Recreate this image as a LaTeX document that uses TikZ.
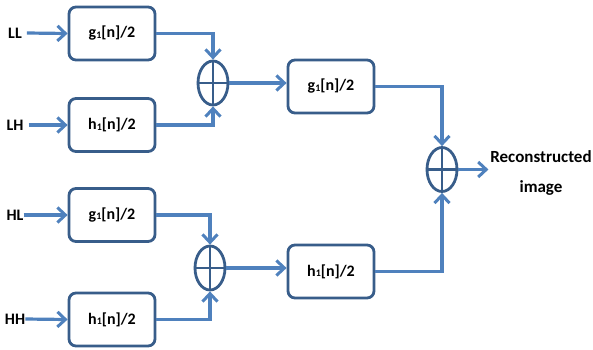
\documentclass[tikz,border=0pt]{standalone}
\usepackage{fontspec}
\setmainfont{Carlito}
\usetikzlibrary{shapes.geometric,arrows.meta}
\definecolor{lineblue}{RGB}{79,129,189}
\definecolor{darkblue}{RGB}{56,93,138}
\newcommand{\sub}[1]{\raisebox{-0.5pt}{\fontsize{10}{10}\selectfont #1}}
\begin{document}
\begin{tikzpicture}[x=1pt,y=-1pt,
  font=\fontsize{16}{18}\selectfont\bfseries,
  filt/.style={draw=darkblue,line width=2.8pt,rounded corners=7pt,minimum width=86pt,minimum height=53pt,inner sep=0pt,fill=white},
  summer/.style={draw=darkblue,line width=2.8pt,ellipse,minimum width=30pt,minimum height=44pt,inner sep=0pt},
  conn/.style={draw=lineblue,line width=3.2pt,-{Straight Barb[length=8pt,width=15pt,line width=3pt]}},
  lbl/.style={inner sep=0pt}]
\useasboundingbox (0,0) rectangle (593,349);
% inputs
\node[lbl] (LL) at (15,33) {LL};
\node[lbl] (LH) at (15,125) {LH};
\node[lbl] (HL) at (15,215) {HL};
\node[lbl] (HH) at (15,319) {HH};
% first stage filters
\node[filt] (b1) at (112,33.5) {g\sub{1}[n]/2};
\node[filt] (b2) at (112,125) {h\sub{1}[n]/2};
\node[filt] (b3) at (112,215) {g\sub{1}[n]/2};
\node[filt] (b4) at (112,319.5) {h\sub{1}[n]/2};
% summers
\node[summer] (s1) at (213,83) {};
\draw[darkblue,line width=2.8pt] (s1.north)--(s1.south) (s1.west)--(s1.east);
\node[summer] (s2) at (210,268) {};
\draw[darkblue,line width=2.8pt] (s2.north)--(s2.south) (s2.west)--(s2.east);
% second stage filters
\node[filt] (b5) at (331,86.5) {g\sub{1}[n]/2};
\node[filt] (b6) at (331,271.5) {h\sub{1}[n]/2};
\node[summer] (s3) at (442,169.5) {};
\draw[darkblue,line width=2.8pt] (s3.north)--(s3.south) (s3.west)--(s3.east);
\node[lbl,align=center,font=\fontsize{17}{30}\selectfont\bfseries] (out) at (541,173) {Reconstructed\\image};
% connectors
\draw[conn] (LL.east)++(5,0) -- (b1.west);
\draw[conn] (LH.east)++(5,0) -- (b2.west);
\draw[conn] (HL.east) -- (b3.west);
\draw[conn] (HH.east) -- (b4.west);
\draw[conn] (b1.east) -| (s1.north);
\draw[conn] (b2.east) -| (s1.south);
\draw[conn] (b3.east) -| (s2.north);
\draw[conn] (b4.east) -| (s2.south);
\draw[conn] (s1.east) -- (s1.east -| b5.west);
\draw[conn] (s2.east) -- (s2.east -| b6.west);
\draw[conn] (b5.east) -| (s3.north);
\draw[conn] (b6.east) -| (s3.south);
\draw[conn] (s3.east) -- ++(30,0) coordinate (o);
\end{tikzpicture}
\end{document}
